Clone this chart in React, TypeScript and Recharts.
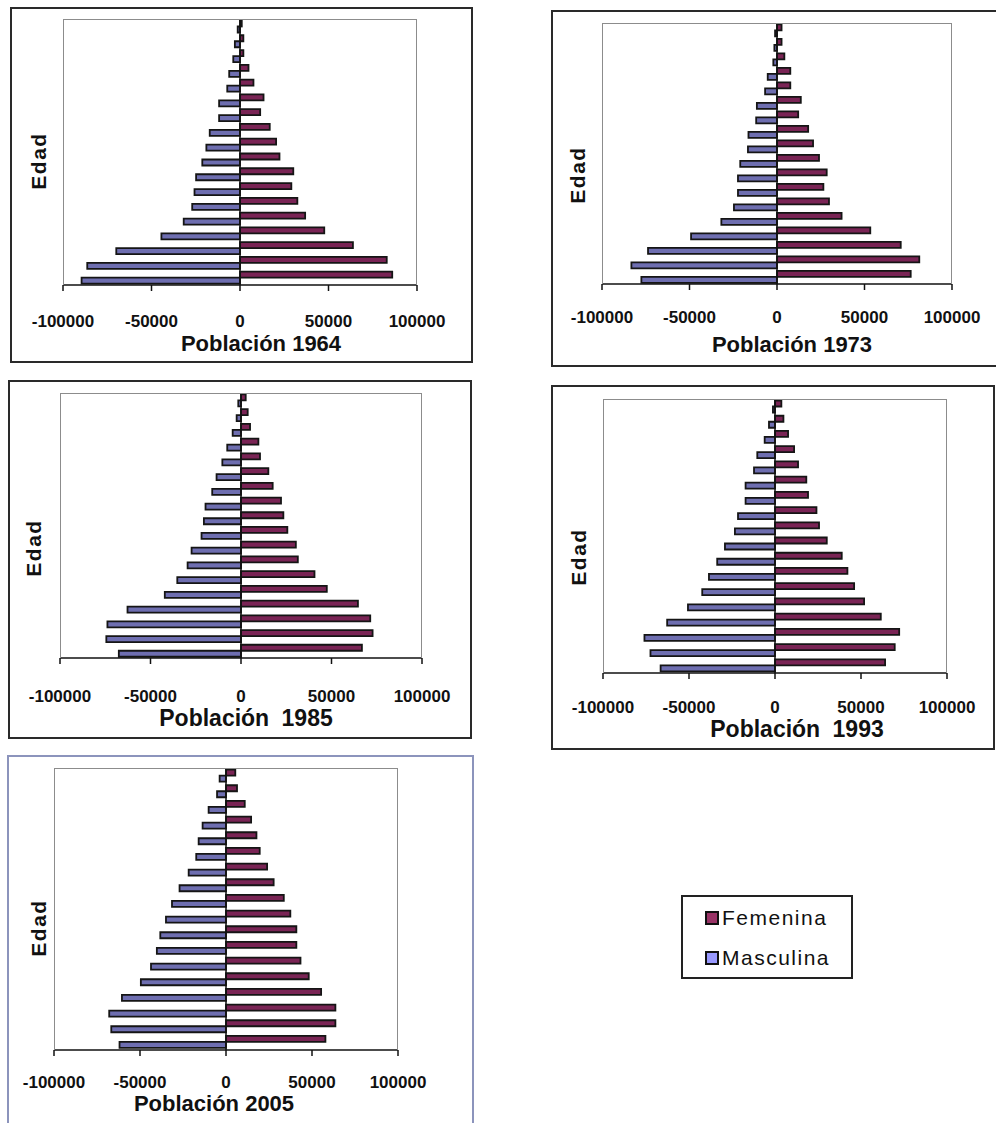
import { Bar, BarChart, ReferenceLine, XAxis, YAxis } from "recharts";

// Age groups, youngest first (drawn at the bottom of each pyramid).
const edades = [
  "0-4", "5-9", "10-14", "15-19", "20-24", "25-29", "30-34", "35-39", "40-44",
  "45-49", "50-54", "55-59", "60-64", "65-69", "70-74", "75-79", "80-84", "85+",
];

const fem1964 = [86000, 82900, 63800, 47600, 36800, 32400, 29000, 30100, 22300, 20400, 16800, 11400, 13300, 7600, 4800, 1900, 1900, 1000];
const masc1964 = [89500, 86300, 69900, 44400, 31800, 27000, 25700, 24800, 21300, 19000, 17100, 11800, 11800, 7200, 6100, 3800, 2900, 1300];

const fem1973 = [76400, 81300, 70700, 53300, 36900, 29700, 26500, 28400, 24000, 20600, 17800, 12100, 13600, 7600, 7600, 4200, 2600, 2600];
const masc1973 = [77500, 83200, 73700, 49100, 31800, 24600, 22300, 22300, 21000, 16600, 16300, 11900, 11500, 6800, 5300, 2100, 1500, 1100];

const fem1985 = [66800, 72700, 71400, 64600, 47400, 40600, 31400, 30300, 25600, 23400, 22100, 17500, 15100, 10500, 9600, 5000, 3700, 2600];
const masc1985 = [67500, 74400, 73800, 62700, 42100, 35200, 29500, 27300, 21800, 20500, 19600, 15900, 13500, 10300, 7600, 4600, 2400, 1500];

const fem1993 = [64000, 69600, 72200, 61500, 51800, 46000, 42100, 38800, 30100, 25600, 24100, 19200, 18200, 13400, 11100, 7600, 4900, 3700];
const masc1993 = [66500, 72400, 75900, 62700, 50600, 42300, 38400, 33600, 29100, 23300, 21500, 17100, 17100, 12200, 10300, 6000, 3500, 1200];

const fem2005 = [57800, 63600, 63600, 55300, 48100, 43300, 40900, 40900, 37400, 33600, 27700, 23900, 19600, 17700, 14600, 10900, 6400, 5400];
const masc2005 = [61900, 66700, 67900, 60500, 49500, 43600, 40200, 38200, 34900, 31400, 27000, 21700, 17300, 15900, 13600, 10100, 5200, 3700];

const xTicks = [-100000, -50000, 0, 50000, 100000];

// legend swatch colour and (darker, as the thin outlined bars read) bar fill
const series = [
  { key: "femenina", name: "Femenina", color: "#993366", barFill: "#7a2455" },
  { key: "masculina", name: "Masculina", color: "#9999ff", barFill: "#6e6eb0" },
];

const FONT = "Arial, 'Liberation Sans', sans-serif";

interface Rect { l: number; t: number; r: number; b: number }

interface PanelProps {
  title: string;
  fem: number[];
  masc: number[];
  box: Rect;
  boxColor: string;
  plot: Rect;
  tickMargin: number;
  titleX: number;
  titleBase: number;
  titleSize: number;
  wordSpacing?: number;
  edadX: number;
  edadY: number;
}

const buildData = (fem: number[], masc: number[]) =>
  edades.map((edad, i) => ({ edad, femenina: fem[i], masculina: -masc[i] }));

const Panel = (p: PanelProps) => {
  const data = buildData(p.fem, p.masc);
  const plotW = p.plot.r - p.plot.l;
  const plotH = p.plot.b - p.plot.t;
  return (
    <>
      <div
        style={{
          position: "absolute",
          left: p.box.l,
          top: p.box.t,
          width: p.box.r - p.box.l,
          height: p.box.b - p.box.t,
          border: `2px solid ${p.boxColor}`,
          boxSizing: "border-box",
        }}
      />
      <div style={{ position: "absolute", left: p.plot.l - 45, top: p.plot.t - 5 }}>
        <BarChart
          width={plotW + 90}
          height={plotH + 55}
          data={data}
          layout="vertical"
          margin={{ top: 5, right: 45, bottom: 0, left: 45 }}
          barCategoryGap="10%"
          barGap={0}
        >
          <XAxis
            type="number"
            domain={[-100000, 100000]}
            ticks={xTicks}
            interval={0}
            height={50}
            axisLine={{ stroke: "#111", strokeWidth: 1.5 }}
            tickLine={{ stroke: "#111", strokeWidth: 1.5 }}
            tickSize={6}
            tickMargin={p.tickMargin}
            tick={{ fill: "#111", fontSize: 17, fontWeight: "bold", fontFamily: FONT }}
          />
          <YAxis type="category" dataKey="edad" reversed hide width={0} />
          {series.map((s) => (
            <Bar
              key={s.key}
              dataKey={s.key}
              name={s.name}
              fill={s.barFill}
              stroke="#151515"
              strokeWidth={1.8}
              isAnimationActive={false}
            />
          ))}
          <ReferenceLine x={0} stroke="#111" strokeWidth={1.5} />
        </BarChart>
      </div>
      {/* plot area frame: grey on three sides, the axis draws the bottom */}
      <div
        style={{
          position: "absolute",
          left: p.plot.l,
          top: p.plot.t,
          width: plotW,
          height: plotH,
          border: "1.5px solid #8c8c8c",
          borderBottom: "none",
          boxSizing: "border-box",
          pointerEvents: "none",
        }}
      />
      <div
        style={{
          position: "absolute",
          left: p.titleX,
          top: p.titleBase - 0.85 * p.titleSize,
          transform: "translateX(-50%)",
          fontSize: p.titleSize,
          lineHeight: 1,
          fontWeight: "bold",
          fontFamily: FONT,
          color: "#111",
          whiteSpace: "nowrap",
          wordSpacing: p.wordSpacing ?? 0,
        }}
      >
        {p.title}
      </div>
      <div
        style={{
          position: "absolute",
          left: p.edadX,
          top: p.edadY,
          transform: "translate(-50%, -50%) rotate(-90deg)",
          fontSize: 21,
          lineHeight: 1,
          fontWeight: "bold",
          fontFamily: FONT,
          letterSpacing: 1.5,
          color: "#111",
          whiteSpace: "nowrap",
        }}
      >
        Edad
      </div>
    </>
  );
};

const LegendBox = () => (
  <div
    style={{
      position: "absolute",
      left: 681,
      top: 895,
      width: 172,
      height: 84,
      border: "2px solid #222",
      boxSizing: "border-box",
      fontFamily: FONT,
    }}
  >
    {series.map((s, i) => (
      <div
        key={s.key}
        style={{ position: "absolute", left: 22, top: 8 + i * 40, display: "flex", alignItems: "center" }}
      >
        <span
          style={{
            display: "inline-block",
            width: 14,
            height: 14,
            background: s.color,
            border: "2px solid #111",
            boxSizing: "border-box",
            marginRight: 3,
          }}
        />
        <span style={{ fontSize: 21, letterSpacing: 1.5, color: "#111", lineHeight: "26px" }}>{s.name}</span>
      </div>
    ))}
  </div>
);

const App = () => (
  <div
    style={{
      position: "absolute",
      left: 0,
      top: 0,
      width: 996,
      height: 1123,
      overflow: "hidden",
      background: "#fff",
    }}
  >
    <Panel
      title="Población 1964" fem={fem1964} masc={masc1964}
      box={{ l: 10, t: 7, r: 473, b: 363 }} boxColor="#2a2a2a"
      plot={{ l: 63, t: 19, r: 417, b: 285 }} tickMargin={24}
      titleX={261} titleBase={352} titleSize={22} edadX={38} edadY={161}
    />
    <Panel
      title="Población 1973" fem={fem1973} masc={masc1973}
      box={{ l: 551, t: 10, r: 1002, b: 367 }} boxColor="#2a2a2a"
      plot={{ l: 602, t: 23, r: 952, b: 284 }} tickMargin={21}
      titleX={792} titleBase={353} titleSize={22} edadX={577} edadY={175}
    />
    <Panel
      title="Población 1985" fem={fem1985} masc={masc1985}
      box={{ l: 8, t: 380, r: 472, b: 739 }} boxColor="#2a2a2a"
      plot={{ l: 60, t: 393, r: 422, b: 658 }} tickMargin={26}
      titleX={246} titleBase={727} titleSize={23} wordSpacing={6} edadX={33} edadY={548}
    />
    <Panel
      title="Población 1993" fem={fem1993} masc={masc1993}
      box={{ l: 551, t: 385, r: 995, b: 750 }} boxColor="#2a2a2a"
      plot={{ l: 603, t: 399, r: 947, b: 673 }} tickMargin={22}
      titleX={797} titleBase={738} titleSize={23} wordSpacing={6} edadX={578} edadY={557}
    />
    <Panel
      title="Población 2005" fem={fem2005} masc={masc2005}
      box={{ l: 7, t: 755, r: 474, b: 1135 }} boxColor="#8c94bc"
      plot={{ l: 54, t: 768, r: 398, b: 1050 }} tickMargin={20}
      titleX={214} titleBase={1112} titleSize={22} edadX={38} edadY={928}
    />
    <LegendBox />
  </div>
);

export default App;
